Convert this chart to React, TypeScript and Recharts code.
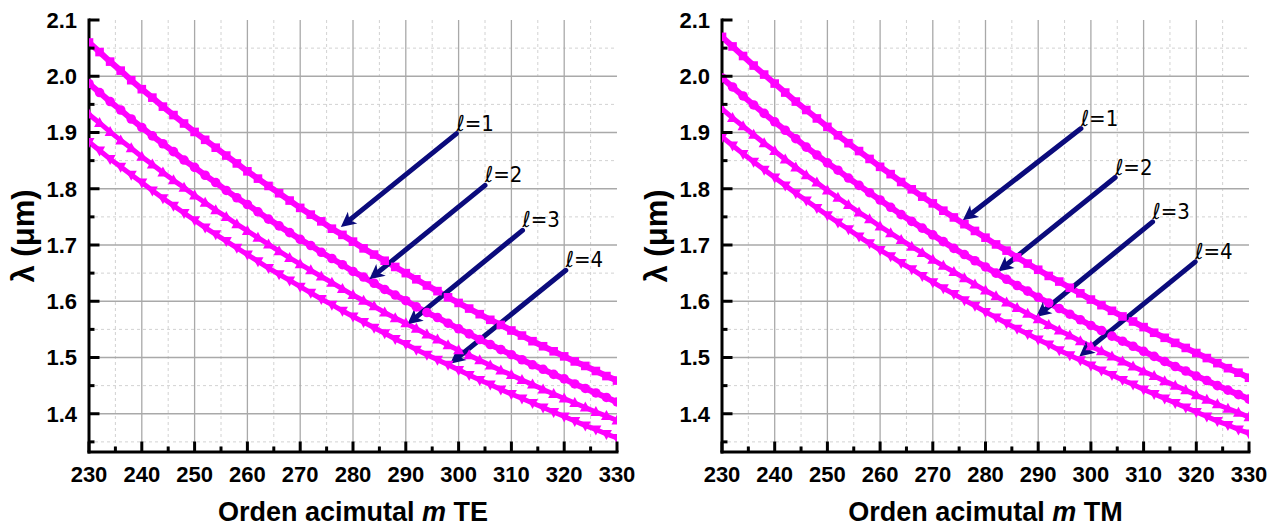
import { LineChart, Line, XAxis, YAxis, CartesianGrid, ReferenceLine } from 'recharts';

// azimuthal order m
const M = [
    230, 232, 234, 236, 238, 240, 242, 244, 246, 248, 250, 252, 254, 256, 258, 260, 262,
    264, 266, 268, 270, 272, 274, 276, 278, 280, 282, 284, 286, 288, 290, 292, 294, 296,
    298, 300, 302, 304, 306, 308, 310, 312, 314, 316, 318, 320, 322, 324, 326, 328, 330,
];

// wavelength (um), TE modes
const TE_L1 = [2.060, 2.043, 2.026, 2.010, 1.993, 1.977, 1.962, 1.946, 1.931, 1.916, 1.901, 1.887, 1.873, 1.859, 1.845, 1.831, 1.818, 1.805, 1.792, 1.779, 1.766, 1.754, 1.742, 1.729, 1.718, 1.706, 1.694, 1.683, 1.672, 1.661, 1.650, 1.639, 1.628, 1.618, 1.607, 1.597, 1.587, 1.577, 1.567, 1.558, 1.548, 1.539, 1.529, 1.520, 1.511, 1.502, 1.493, 1.485, 1.476, 1.467, 1.459];
const TE_L2 = [1.987, 1.971, 1.955, 1.940, 1.924, 1.909, 1.894, 1.880, 1.866, 1.851, 1.838, 1.824, 1.811, 1.797, 1.784, 1.772, 1.759, 1.746, 1.734, 1.722, 1.710, 1.699, 1.687, 1.676, 1.665, 1.653, 1.643, 1.632, 1.621, 1.611, 1.601, 1.590, 1.580, 1.571, 1.561, 1.551, 1.542, 1.532, 1.523, 1.514, 1.505, 1.496, 1.487, 1.479, 1.470, 1.462, 1.453, 1.445, 1.437, 1.429, 1.421];
const TE_L3 = [1.932, 1.917, 1.901, 1.886, 1.872, 1.857, 1.843, 1.829, 1.815, 1.802, 1.788, 1.775, 1.762, 1.750, 1.737, 1.725, 1.713, 1.701, 1.689, 1.677, 1.666, 1.655, 1.644, 1.633, 1.622, 1.611, 1.601, 1.591, 1.580, 1.570, 1.561, 1.551, 1.541, 1.532, 1.522, 1.513, 1.504, 1.495, 1.486, 1.477, 1.469, 1.460, 1.452, 1.443, 1.435, 1.427, 1.419, 1.411, 1.403, 1.396, 1.388];
const TE_L4 = [1.883, 1.868, 1.853, 1.839, 1.825, 1.811, 1.797, 1.783, 1.770, 1.757, 1.744, 1.731, 1.719, 1.707, 1.695, 1.683, 1.671, 1.659, 1.648, 1.637, 1.626, 1.615, 1.604, 1.594, 1.583, 1.573, 1.563, 1.553, 1.543, 1.533, 1.524, 1.514, 1.505, 1.496, 1.487, 1.478, 1.469, 1.460, 1.452, 1.443, 1.435, 1.427, 1.419, 1.411, 1.403, 1.395, 1.387, 1.379, 1.372, 1.364, 1.357];

// wavelength (um), TM modes
const TM_L1 = [2.070, 2.053, 2.036, 2.019, 2.003, 1.987, 1.971, 1.955, 1.940, 1.925, 1.910, 1.895, 1.881, 1.867, 1.853, 1.839, 1.826, 1.812, 1.799, 1.786, 1.774, 1.761, 1.749, 1.737, 1.725, 1.713, 1.701, 1.690, 1.678, 1.667, 1.656, 1.645, 1.635, 1.624, 1.614, 1.603, 1.593, 1.583, 1.573, 1.564, 1.554, 1.544, 1.535, 1.526, 1.517, 1.508, 1.499, 1.490, 1.481, 1.473, 1.464];
const TM_L2 = [1.997, 1.981, 1.965, 1.949, 1.934, 1.919, 1.904, 1.889, 1.874, 1.860, 1.846, 1.833, 1.819, 1.806, 1.793, 1.780, 1.767, 1.754, 1.742, 1.730, 1.718, 1.706, 1.694, 1.683, 1.672, 1.661, 1.650, 1.639, 1.628, 1.618, 1.607, 1.597, 1.587, 1.577, 1.567, 1.557, 1.548, 1.538, 1.529, 1.520, 1.511, 1.502, 1.493, 1.484, 1.476, 1.467, 1.459, 1.450, 1.442, 1.434, 1.426];
const TM_L3 = [1.942, 1.926, 1.911, 1.896, 1.881, 1.867, 1.852, 1.838, 1.824, 1.811, 1.797, 1.784, 1.771, 1.758, 1.746, 1.733, 1.721, 1.709, 1.697, 1.686, 1.674, 1.663, 1.652, 1.641, 1.630, 1.619, 1.609, 1.598, 1.588, 1.578, 1.568, 1.558, 1.548, 1.539, 1.529, 1.520, 1.511, 1.502, 1.493, 1.484, 1.475, 1.467, 1.458, 1.450, 1.442, 1.433, 1.425, 1.417, 1.409, 1.402, 1.394];
const TM_L4 = [1.892, 1.877, 1.862, 1.848, 1.834, 1.820, 1.806, 1.792, 1.779, 1.766, 1.753, 1.740, 1.728, 1.715, 1.703, 1.691, 1.680, 1.668, 1.657, 1.645, 1.634, 1.623, 1.613, 1.602, 1.592, 1.581, 1.571, 1.561, 1.551, 1.542, 1.532, 1.523, 1.513, 1.504, 1.495, 1.486, 1.477, 1.469, 1.460, 1.452, 1.443, 1.435, 1.427, 1.419, 1.411, 1.403, 1.395, 1.387, 1.380, 1.372, 1.365];

const X_TICKS = [230, 235, 240, 245, 250, 255, 260, 265, 270, 275, 280, 285, 290, 295, 300, 305, 310, 315, 320, 325, 330];
const Y_TICKS = [1.35, 1.4, 1.45, 1.5, 1.55, 1.6, 1.65, 1.7, 1.75, 1.8, 1.85, 1.9, 1.95, 2.0, 2.05, 2.1];
const X_GRID_MAJOR = [240, 250, 260, 270, 280, 290, 300, 310, 320];
const X_GRID_MINOR = [235, 245, 255, 265, 275, 285, 295, 305, 315, 325];
const Y_GRID_MAJOR = [1.4, 1.5, 1.6, 1.7, 1.8, 1.9, 2.0];
const Y_GRID_MINOR = [1.35, 1.45, 1.55, 1.65, 1.75, 1.85, 1.95, 2.05];

// annotation arrows: label end -> tip (data units)
const TE_ARROWS = [
    { label: 'ℓ=1', from: [299.6, 1.898], to: [277.7, 1.732] },
    { label: 'ℓ=2', from: [305.0, 1.806], to: [283.1, 1.639] },
    { label: 'ℓ=3', from: [312.1, 1.726], to: [290.3, 1.559] },
    { label: 'ℓ=4', from: [320.3, 1.655], to: [298.4, 1.489] },
];
const TM_ARROWS = [
    { label: 'ℓ=1', from: [298.1, 1.907], to: [275.7, 1.744] },
    { label: 'ℓ=2', from: [304.6, 1.820], to: [282.4, 1.653] },
    { label: 'ℓ=3', from: [311.7, 1.741], to: [289.6, 1.572] },
    { label: 'ℓ=4', from: [319.8, 1.670], to: [297.8, 1.502] },
];

const MAGENTA = '#ff00ff';
const NAVY = '#0b0b7c';
const FONT = '"Liberation Sans", Arial, sans-serif';

const isMajorX = (v: number) => v % 10 === 0;
const isMajorY = (v: number) => Math.round(v * 100) % 10 === 0;

const AxisTick = ({ x, y, payload, side }: any) => {
    const v = payload.value;
    const horiz = side === 'bottom' || side === 'top';
    const major = horiz ? isMajorX(v) : isMajorY(v);
    const len = major ? 10.5 : 5.5;
    let line;
    if (side === 'bottom') line = <line x1={x} y1={y} x2={x} y2={y - len} />;
    else if (side === 'top') line = <line x1={x} y1={y} x2={x} y2={y + len} />;
    else if (side === 'left') line = <line x1={x} y1={y} x2={x + len} y2={y} />;
    else line = <line x1={x} y1={y} x2={x - len} y2={y} />;
    let label = null;
    if (major && side === 'bottom') {
        label = (
            <text x={x} y={y + 30} textAnchor="middle" fontSize={22} fontWeight={700} fontFamily={FONT} fill="#000">
                {v}
            </text>
        );
    } else if (major && side === 'left') {
        label = (
            <text x={x - 12} y={y} dy="0.36em" textAnchor="end" fontSize={22} fontWeight={700} fontFamily={FONT} fill="#000">
                {v.toFixed(1)}
            </text>
        );
    }
    return (
        <g>
            <g stroke="#000" strokeWidth={3}>{line}</g>
            {label}
        </g>
    );
};

const XTitle = ({ viewBox, mode }: any) => {
    const { x, y, width } = viewBox;
    return (
        <text x={x + width / 2} y={y + 69} textAnchor="middle" fontSize={27} fontWeight={700} fontFamily={FONT} fill="#000">
            Orden acimutal{' '}
            <tspan fontStyle="italic">m</tspan>
            {' '}{mode}
        </text>
    );
};

const YTitle = ({ viewBox }: any) => {
    const { x, y, width, height } = viewBox;
    const cx = x + width - 66;
    const cy = y + height / 2;
    return (
        <text
            x={cx}
            y={cy}
            transform={`rotate(-90 ${cx} ${cy})`}
            textAnchor="middle"
            dominantBaseline="central"
            fontSize={31}
            fontWeight={700}
            fontFamily={FONT}
            fill="#000"
        >
            λ (μm)
        </text>
    );
};

const squareDot = (p: any) => (
    <rect key={`s${p.index}`} x={p.cx - 4.3} y={p.cy - 4.3} width={8.6} height={8.6} fill={MAGENTA} />
);
const circleDot = (p: any) => <circle key={`c${p.index}`} cx={p.cx} cy={p.cy} r={4.8} fill={MAGENTA} />;
const upDot = (p: any) => (
    <polygon
        key={`u${p.index}`}
        points={`${p.cx},${p.cy - 6} ${p.cx + 5.5},${p.cy + 4} ${p.cx - 5.5},${p.cy + 4}`}
        fill={MAGENTA}
    />
);
const downDot = (p: any) => (
    <polygon
        key={`d${p.index}`}
        points={`${p.cx},${p.cy + 6} ${p.cx + 5.5},${p.cy - 4} ${p.cx - 5.5},${p.cy - 4}`}
        fill={MAGENTA}
    />
);

const arrowShape = (text: string) => (p: any) => {
    const { x1, y1, x2, y2 } = p;
    const dx = x2 - x1;
    const dy = y2 - y1;
    const d = Math.hypot(dx, dy);
    const ux = dx / d;
    const uy = dy / d;
    const head = 15;
    const half = 7.5;
    const bx = x2 - ux * head;
    const by = y2 - uy * head;
    const nx = x2 - ux * (head - 4);
    const ny = y2 - uy * (head - 4);
    const pts = `${x2},${y2} ${bx - uy * half},${by + ux * half} ${nx},${ny} ${bx + uy * half},${by - ux * half}`;
    return (
        <g>
            <line x1={x1} y1={y1} x2={nx} y2={ny} stroke={NAVY} strokeWidth={5} strokeLinecap="round" />
            <polygon points={pts} fill={NAVY} />
            <text
                x={x1}
                y={y1 - 3}
                fontSize={22}
                fontFamily='"DejaVu Sans Condensed", "DejaVu Sans", sans-serif'
                fill="#000"
            >
                {text}
            </text>
        </g>
    );
};

interface ModeChartProps {
    left: number;
    width: number;
    yAxisWidth: number;
    rightMargin: number;
    series: number[][];
    arrows: { label: string; from: number[]; to: number[] }[];
    mode: string;
}

function ModeChart({ left, width, yAxisWidth, rightMargin, series, arrows, mode }: ModeChartProps) {
    const data = M.map((m, i) => ({ m, l1: series[0][i], l2: series[1][i], l3: series[2][i], l4: series[3][i] }));
    const axisLine = { stroke: '#000', strokeWidth: 3, strokeLinecap: 'square' as const };
    return (
        <div style={{ position: 'absolute', left, top: 0 }}>
            <LineChart width={width} height={528} data={data} margin={{ top: 20, right: rightMargin, bottom: 0, left: 0 }}>
                <CartesianGrid
                    stroke="#d2d2d2"
                    strokeDasharray="3 3"
                    verticalValues={X_GRID_MINOR}
                    horizontalValues={Y_GRID_MINOR}
                />
                <CartesianGrid
                    stroke="#a9a9a9"
                    strokeWidth={1.3}
                    verticalValues={X_GRID_MAJOR}
                    horizontalValues={Y_GRID_MAJOR}
                />
                <Line dataKey="l1" stroke={MAGENTA} strokeWidth={6} dot={squareDot} activeDot={false} isAnimationActive={false} />
                <Line dataKey="l2" stroke={MAGENTA} strokeWidth={6} dot={circleDot} activeDot={false} isAnimationActive={false} />
                <Line dataKey="l3" stroke={MAGENTA} strokeWidth={5} dot={upDot} activeDot={false} isAnimationActive={false} />
                <Line dataKey="l4" stroke={MAGENTA} strokeWidth={5} dot={downDot} activeDot={false} isAnimationActive={false} />
                {arrows.map((a) => (
                    <ReferenceLine
                        key={a.label}
                        segment={[{ x: a.from[0], y: a.from[1] }, { x: a.to[0], y: a.to[1] }]}
                        ifOverflow="visible"
                        shape={arrowShape(a.label)}
                    />
                ))}
                <XAxis
                    dataKey="m"
                    type="number"
                    domain={[230, 330]}
                    ticks={X_TICKS}
                    interval={0}
                    allowDataOverflow
                    height={76}
                    tickSize={0}
                    tickMargin={0}
                    tickLine={false}
                    axisLine={axisLine}
                    tick={(p: any) => <AxisTick {...p} side="bottom" />}
                    label={(p: any) => <XTitle viewBox={p.viewBox} mode={mode} />}
                />
                <XAxis
                    xAxisId="top"
                    orientation="top"
                    type="number"
                    domain={[230, 330]}
                    ticks={X_TICKS}
                    interval={0}
                    allowDataOverflow
                    height={0}
                    tickSize={0}
                    tickMargin={0}
                    tickLine={false}
                    axisLine={axisLine}
                    tick={(p: any) => <AxisTick {...p} side="top" />}
                />
                <YAxis
                    type="number"
                    domain={[1.332, 2.1]}
                    ticks={Y_TICKS}
                    interval={0}
                    allowDataOverflow
                    width={yAxisWidth}
                    tickSize={0}
                    tickMargin={0}
                    tickLine={false}
                    axisLine={axisLine}
                    tick={(p: any) => <AxisTick {...p} side="left" />}
                    label={(p: any) => <YTitle viewBox={p.viewBox} />}
                />
                <YAxis
                    yAxisId="right"
                    orientation="right"
                    type="number"
                    domain={[1.332, 2.1]}
                    ticks={Y_TICKS}
                    interval={0}
                    allowDataOverflow
                    width={0}
                    tickSize={0}
                    tickMargin={0}
                    tickLine={false}
                    axisLine={axisLine}
                    tick={(p: any) => <AxisTick {...p} side="right" />}
                />
            </LineChart>
        </div>
    );
}

export default function App() {
    return (
        <div style={{ position: 'absolute', left: 0, top: 0, width: 1279, height: 528, background: '#fff' }}>
            <ModeChart
                left={0}
                width={640}
                yAxisWidth={89}
                rightMargin={23}
                series={[TE_L1, TE_L2, TE_L3, TE_L4]}
                arrows={TE_ARROWS}
                mode="TE"
            />
            <ModeChart
                left={640}
                width={639}
                yAxisWidth={82}
                rightMargin={30}
                series={[TM_L1, TM_L2, TM_L3, TM_L4]}
                arrows={TM_ARROWS}
                mode="TM"
            />
        </div>
    );
}
